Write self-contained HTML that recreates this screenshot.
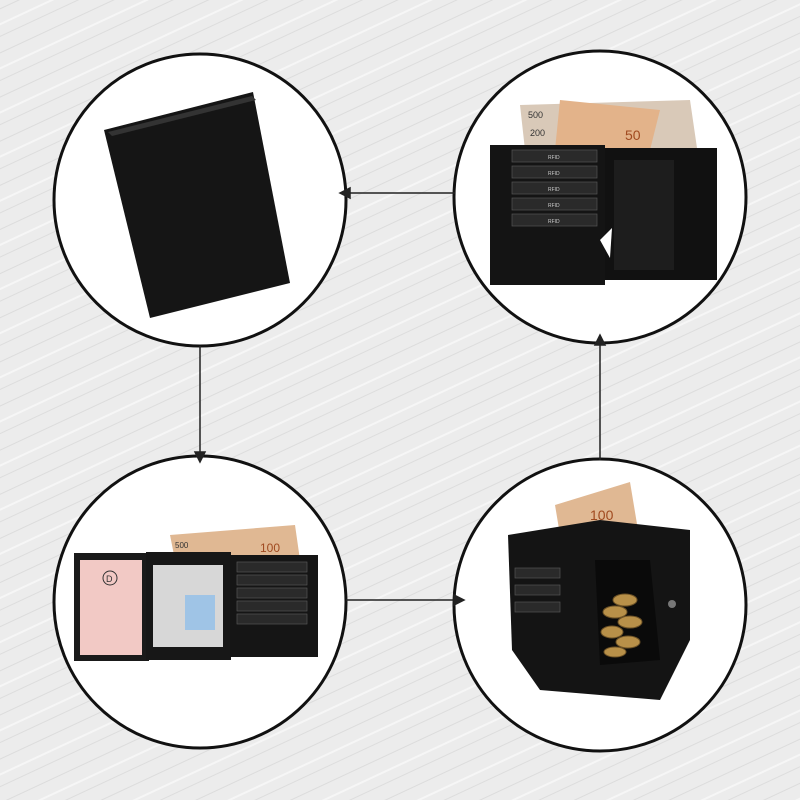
<!DOCTYPE html>
<html><head><meta charset="utf-8"><style>
html,body{margin:0;padding:0;width:800px;height:800px;overflow:hidden;background:#ebebeb}
svg{display:block}
</style></head><body>
<svg width="800" height="800" viewBox="0 0 800 800" xmlns="http://www.w3.org/2000/svg" font-family="Liberation Sans, sans-serif">
<defs>
<pattern id="st" width="40" height="40" patternUnits="userSpaceOnUse" patternTransform="rotate(-25)">
<rect width="40" height="40" fill="#ececec"/>
<line x1="0" y1="8" x2="40" y2="8" stroke="#dcdcdc" stroke-width="1"/>
<line x1="0" y1="22" x2="40" y2="22" stroke="#f6f6f6" stroke-width="2"/>
<line x1="0" y1="33" x2="40" y2="33" stroke="#d8d8d8" stroke-width="0.8"/>
</pattern>
</defs>
<rect width="800" height="800" fill="url(#st)"/>

<!-- circles -->
<g fill="#fff" stroke="#111" stroke-width="3">
<circle cx="200" cy="200" r="146"/>
<circle cx="600" cy="197" r="146"/>
<circle cx="200" cy="602" r="146"/>
<circle cx="600" cy="605" r="146"/>
</g>

<!-- connectors -->
<g stroke="#222" stroke-width="1.5" fill="#222">
<line x1="455" y1="193" x2="346" y2="193"/><polygon points="340,193 350,188 350,198"/>
<line x1="200" y1="346" x2="200" y2="455"/><polygon points="200,462 195,452 205,452"/>
<line x1="346" y1="600" x2="457" y2="600"/><polygon points="464,600 454,595 454,605"/>
<line x1="600" y1="460" x2="600" y2="342"/><polygon points="600,335 595,345 605,345"/>
</g>

<!-- TL closed wallet -->
<polygon points="104,130 253,92 290,283 150,318" fill="#151515"/>
<polygon points="108,132 252,96 256,100 112,136" fill="#333"/>

<!-- TR open wallet -->
<polygon points="520,105 690,100 697,148 525,150" fill="#d9c9b8"/>
<polygon points="560,100 660,110 650,150 555,150" fill="#e3b38a"/>
<text x="528" y="118" font-size="9" fill="#333">500</text>
<text x="530" y="136" font-size="9" fill="#333">200</text>
<text x="625" y="140" font-size="14" fill="#a04a20">50</text>
<rect x="490" y="145" width="115" height="140" fill="#141414"/>
<rect x="605" y="148" width="112" height="132" fill="#111"/>
<rect x="614" y="160" width="60" height="110" fill="#1d1d1d"/>
<g fill="#2a2a2a" stroke="#555" stroke-width="0.7">
<rect x="512" y="150" width="85" height="12"/><rect x="512" y="166" width="85" height="12"/>
<rect x="512" y="182" width="85" height="12"/><rect x="512" y="198" width="85" height="12"/>
<rect x="512" y="214" width="85" height="12"/>
</g>
<g font-size="5" fill="#ccc"><text x="548" y="159">RFID</text><text x="548" y="175">RFID</text><text x="548" y="191">RFID</text><text x="548" y="207">RFID</text><text x="548" y="223">RFID</text></g>
<polygon points="600,240 612,228 610,258" fill="#fff"/>

<!-- BL open wallet -->
<polygon points="170,535 295,525 300,560 175,560" fill="#e0b893"/>
<text x="175" y="548" font-size="8" fill="#333">500</text>
<text x="260" y="552" font-size="12" fill="#a04a20">100</text>
<rect x="74" y="553" width="75" height="108" fill="#1a1a1a"/>
<rect x="80" y="560" width="62" height="95" fill="#f2c9c5"/>
<circle cx="110" cy="578" r="7" fill="none" stroke="#333"/><text x="106" y="582" font-size="9" fill="#333">D</text>
<rect x="146" y="552" width="85" height="108" fill="#171717"/>
<rect x="153" y="565" width="70" height="82" fill="#d7d7d7"/>
<rect x="185" y="595" width="30" height="35" fill="#9fc4e6"/>
<rect x="230" y="555" width="88" height="102" fill="#151515"/>
<g fill="#2a2a2a" stroke="#555" stroke-width="0.7">
<rect x="237" y="562" width="70" height="10"/><rect x="237" y="575" width="70" height="10"/>
<rect x="237" y="588" width="70" height="10"/><rect x="237" y="601" width="70" height="10"/>
<rect x="237" y="614" width="70" height="10"/>
</g>

<!-- BR coin purse -->
<polygon points="555,505 630,482 638,530 560,535" fill="#e0b893"/>
<text x="590" y="520" font-size="14" fill="#a04a20">100</text>
<polygon points="508,535 600,520 690,530 690,640 660,700 540,690 512,650" fill="#141414"/>
<polygon points="595,560 650,560 660,660 600,665" fill="#0a0a0a"/>
<g fill="#b89049" stroke="#6d5226" stroke-width="1">
<ellipse cx="625" cy="600" rx="12" ry="6"/><ellipse cx="615" cy="612" rx="12" ry="6"/>
<ellipse cx="630" cy="622" rx="12" ry="6"/><ellipse cx="612" cy="632" rx="11" ry="6"/>
<ellipse cx="628" cy="642" rx="12" ry="6"/><ellipse cx="615" cy="652" rx="11" ry="5"/>
</g>
<circle cx="672" cy="604" r="4" fill="#777"/>
<g fill="#2a2a2a" stroke="#555" stroke-width="0.7">
<rect x="515" y="568" width="45" height="10"/><rect x="515" y="585" width="45" height="10"/><rect x="515" y="602" width="45" height="10"/>
</g>
</svg>
</body></html>
